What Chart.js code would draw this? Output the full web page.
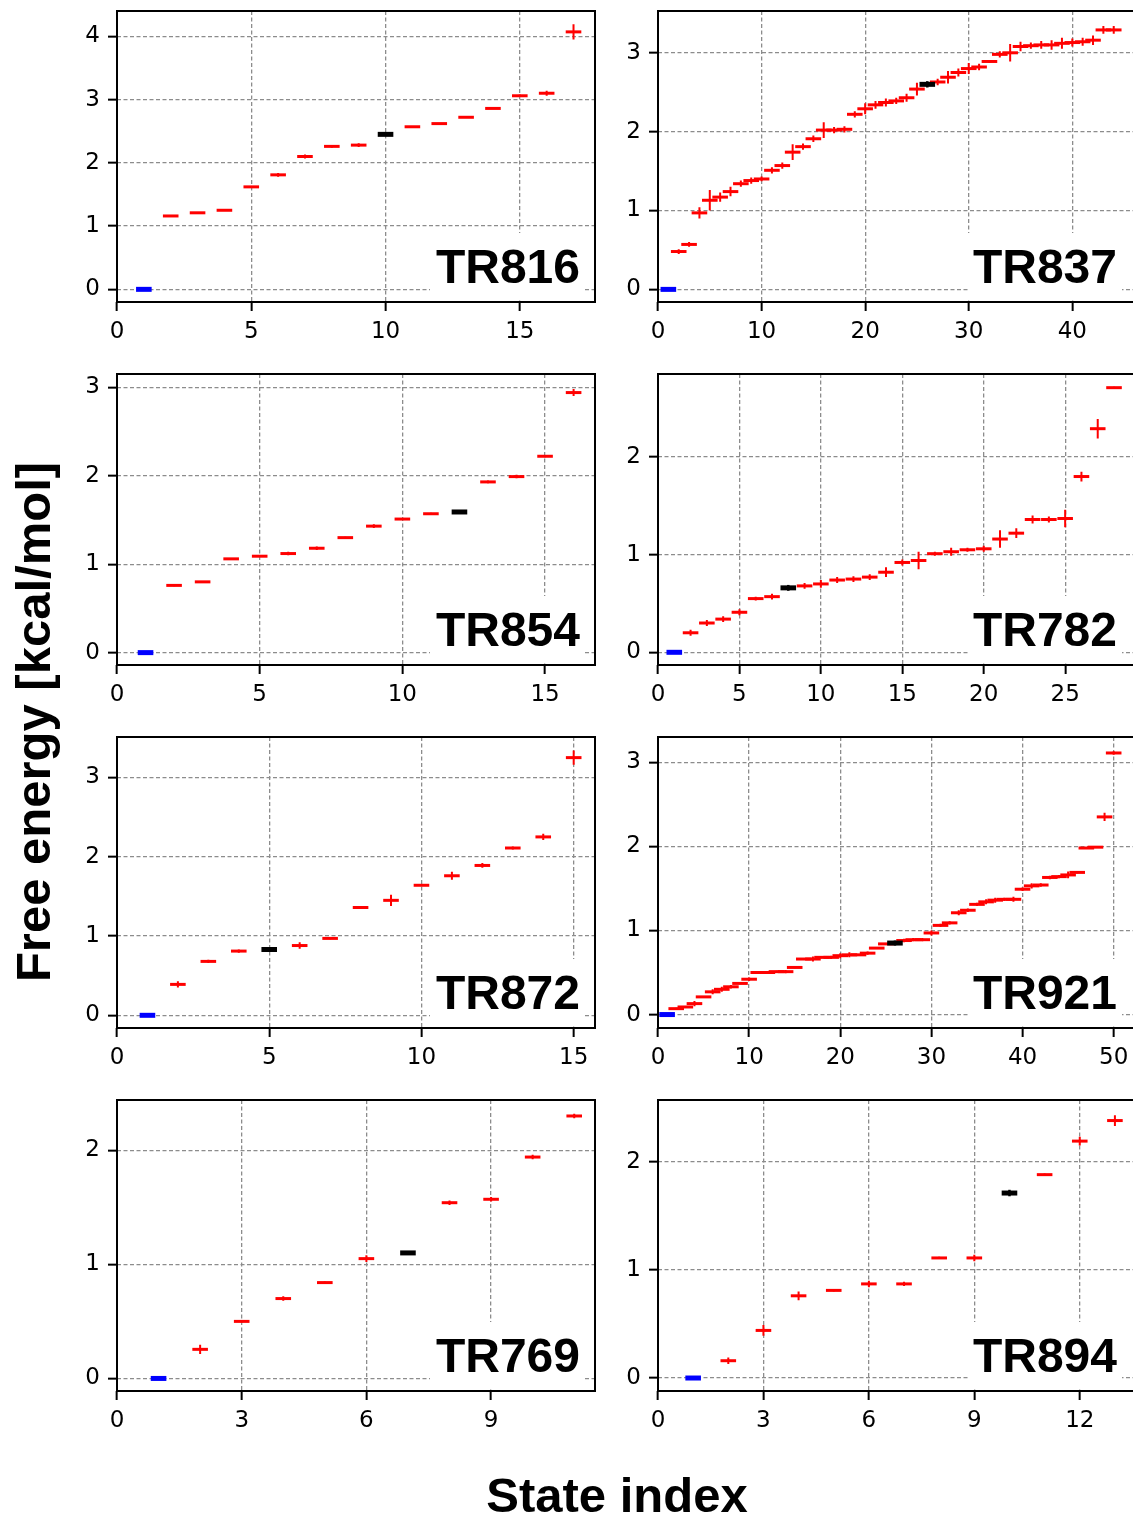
<!DOCTYPE html>
<html>
<head>
<meta charset="utf-8">
<script src="https://cdn.jsdelivr.net/npm/chart.js@4.4.0/dist/chart.umd.min.js"></script>
<style>
  html, body { margin: 0; padding: 0; background: #fff; }
  body { position: relative; width: 1133px; height: 1517px; overflow: hidden; }
  canvas { position: absolute; }
  .title { position: absolute; font: bold 49px "Liberation Sans", Arial, sans-serif; line-height: 49px; white-space: nowrap; color: #000; }
  #ytitle { left: 33px; top: 722px; transform: translate(-50%, -50%) rotate(-90deg); }
  #xtitle { left: 617px; top: 1471px; transform: translateX(-50%); }
</style>
</head>
<body>
<div class="title" id="ytitle">Free energy [kcal/mol]</div>
<div class="title" id="xtitle">State index</div>
<script>
// one entry per panel (state 1 = reference, blue)
const panelNames = ['TR816', 'TR837', 'TR854', 'TR782', 'TR872', 'TR921', 'TR769', 'TR894'];

const tr816Energy = [0, 1.16, 1.21, 1.25, 1.62, 1.81, 2.10, 2.26, 2.28, 2.45, 2.57, 2.62, 2.72, 2.86, 3.06, 3.10, 4.07];
const tr816Error  = [0, 0.01, 0.01, 0.01, 0.01, 0.03, 0.03, 0.02, 0.03, 0, 0.01, 0.01, 0.01, 0.01, 0.02, 0.04, 0.12];

const tr837Energy = [0, 0.48, 0.57, 0.97, 1.13, 1.17, 1.24, 1.34, 1.38, 1.40, 1.51, 1.57, 1.74, 1.81, 1.91, 2.02, 2.02, 2.03, 2.22, 2.29,
                     2.34, 2.37, 2.39, 2.43, 2.54, 2.60, 2.63, 2.69, 2.75, 2.80, 2.82, 2.89, 2.98, 3.00, 3.08, 3.09, 3.10, 3.10, 3.12, 3.13,
                     3.14, 3.16, 3.29, 3.29];
const tr837Error  = [0, 0.03, 0.03, 0.07, 0.13, 0.06, 0.06, 0.04, 0.04, 0.03, 0.04, 0.04, 0.10, 0.04, 0.04, 0.10, 0.04, 0.04, 0.04, 0.07,
                     0.05, 0.05, 0.04, 0.05, 0.08, 0.04, 0.04, 0.08, 0.05, 0.07, 0.04, 0.02, 0.04, 0.11, 0.06, 0.04, 0.05, 0.06, 0.07, 0.05,
                     0.05, 0.06, 0.05, 0.05];

const tr854Energy = [0, 0.76, 0.80, 1.06, 1.09, 1.12, 1.18, 1.30, 1.43, 1.51, 1.57, 1.59, 1.93, 1.99, 2.22, 2.94];
const tr854Error  = [0, 0.01, 0.01, 0.01, 0.01, 0.02, 0.02, 0.01, 0.02, 0.01, 0.01, 0, 0.015, 0.02, 0.01, 0.04];

const tr782Energy = [0, 0.20, 0.30, 0.34, 0.41, 0.55, 0.57, 0.66, 0.68, 0.70, 0.74, 0.75, 0.77, 0.82, 0.92, 0.94, 1.01, 1.03, 1.05, 1.06,
                     1.16, 1.22, 1.36, 1.36, 1.37, 1.80, 2.29, 2.71];
const tr782Error  = [0, 0.03, 0.03, 0.03, 0.03, 0.02, 0.03, 0.03, 0.03, 0.04, 0.03, 0.03, 0.03, 0.05, 0.03, 0.09, 0.02, 0.04, 0.02, 0.03,
                     0.09, 0.05, 0.04, 0.03, 0.09, 0.05, 0.10, 0.01];

const tr872Energy = [0, 0.39, 0.68, 0.81, 0.83, 0.88, 0.97, 1.36, 1.45, 1.64, 1.76, 1.89, 2.11, 2.25, 3.25];
const tr872Error  = [0, 0.04, 0.02, 0.02, 0, 0.04, 0.01, 0.02, 0.07, 0.01, 0.05, 0.03, 0.02, 0.04, 0.09];

const tr921Energy = [0, 0.07, 0.09, 0.13, 0.21, 0.27, 0.30, 0.33, 0.37, 0.42, 0.50, 0.50, 0.51, 0.51, 0.56, 0.66, 0.66, 0.68, 0.68, 0.70,
                     0.71, 0.71, 0.73, 0.79, 0.84, 0.85, 0.88, 0.89, 0.89, 0.97, 1.06, 1.09, 1.21, 1.24, 1.31, 1.34, 1.36, 1.37, 1.37, 1.49,
                     1.53, 1.54, 1.63, 1.64, 1.66, 1.69, 1.98, 1.99, 2.35, 3.11];
const tr921Error  = [0, 0.01, 0.01, 0.03, 0.01, 0.03, 0.03, 0.02, 0.01, 0.02, 0.01, 0.01, 0.01, 0.02, 0.01, 0.01, 0.03, 0.01, 0.02, 0.03,
                     0.03, 0.01, 0.02, 0.01, 0.01, 0.03, 0.02, 0.02, 0.02, 0.03, 0.02, 0.02, 0.03, 0.02, 0.02, 0.03, 0.03, 0.02, 0.03, 0.02,
                     0.03, 0.02, 0.02, 0.02, 0.04, 0.01, 0.01, 0.01, 0.05, 0.02];

const tr769Energy = [0, 0.255, 0.50, 0.70, 0.84, 1.05, 1.10, 1.54, 1.57, 1.94, 2.30];
const tr769Error  = [0, 0.04, 0.01, 0.02, 0.01, 0.03, 0, 0.02, 0.02, 0.02, 0.02];

const tr894Energy = [0, 0.16, 0.44, 0.76, 0.81, 0.87, 0.87, 1.11, 1.11, 1.71, 1.88, 2.19, 2.38];
const tr894Error  = [0, 0.03, 0.05, 0.04, 0.01, 0.03, 0.02, 0.01, 0.03, 0.03, 0.01, 0.04, 0.05];

const energies = [tr816Energy, tr837Energy, tr854Energy, tr782Energy, tr872Energy, tr921Energy, tr769Energy, tr894Energy];
const errors   = [tr816Error, tr837Error, tr854Error, tr782Error, tr872Error, tr921Error, tr769Error, tr894Error];

// state drawn in black in each panel
const blackState = [10, 26, 12, 8, 5, 26, 7, 10];

const xTicks = [[0, 5, 10, 15], [0, 10, 20, 30, 40], [0, 5, 10, 15], [0, 5, 10, 15, 20, 25],
                [0, 5, 10, 15], [0, 10, 20, 30, 40, 50], [0, 3, 6, 9], [0, 3, 6, 9, 12]];
const yTicks = [[0, 1, 2, 3, 4], [0, 1, 2, 3], [0, 1, 2, 3], [0, 1, 2],
                [0, 1, 2, 3], [0, 1, 2, 3], [0, 1, 2], [0, 1, 2]];
const yRange = [[-0.2, 4.4], [-0.16, 3.53], [-0.14, 3.15], [-0.13, 2.85],
                [-0.16, 3.51], [-0.16, 3.30], [-0.11, 2.44], [-0.12, 2.57]];

// layout (page pixels)
const COLS = [117, 658];
const ROWS = [11, 374, 737, 1100];
const PLOT_W = 478, PLOT_H = 291;
const YW = 60, XH = 50, PAD_T = 30, PAD_R = 30;
const BOX_LEFT = [313, 310], BOX_RIGHT = [467, 464], TEXT_RIGHT = [463, 459];

const panelPlugin = {
  id: 'panel',
  beforeDatasetsDraw(chart, args, opts) {
    const { ctx, chartArea: a } = chart;
    ctx.save();
    ctx.fillStyle = '#fff';
    ctx.fillRect(a.left + opts.boxLeft, a.top + 222, opts.boxRight - opts.boxLeft, a.bottom - 1.5 - (a.top + 222));
    ctx.fillStyle = '#000';
    ctx.font = 'bold 48px "Liberation Sans", Arial, sans-serif';
    ctx.textAlign = 'right';
    ctx.textBaseline = 'alphabetic';
    ctx.fillText(opts.name, a.left + opts.textRight, a.top + 271.5);
    ctx.restore();
  },
  afterDatasetsDraw(chart) {
    const { ctx, chartArea: a } = chart;
    ctx.save();
    ctx.lineWidth = 2;
    ctx.strokeStyle = '#000';
    ctx.strokeRect(a.left, a.top, a.right - a.left, a.bottom - a.top);
    ctx.restore();
  }
};

function markers(energy, pick) {
  const pts = [];
  energy.forEach((v, i) => { if (pick(i + 1)) pts.push({ x: i + 1, y: v }); });
  return pts;
}

function errorSegments(energy, error, pick) {
  const pts = [];
  energy.forEach((v, i) => {
    if (!pick(i + 1) || !error[i]) return;
    pts.push({ x: i + 1, y: v - error[i] }, { x: i + 1, y: v + error[i] }, { x: i + 1, y: null });
  });
  return pts;
}

panelNames.forEach((name, k) => {
  const col = k % 2, row = Math.floor(k / 2);
  const energy = energies[k], error = errors[k];
  const n = energy.length;
  const isRed = s => s !== 1 && s !== blackState[k];
  const isBlack = s => s === blackState[k];
  const isBlue = s => s === 1;

  const cv = document.createElement('canvas');
  cv.width = YW + PLOT_W + PAD_R;
  cv.height = PAD_T + PLOT_H + XH;
  cv.style.left = (COLS[col] - YW) + 'px';
  cv.style.top = (ROWS[row] - PAD_T) + 'px';
  document.body.appendChild(cv);

  const tickFont = { family: '"DejaVu Sans", sans-serif', size: 23 };
  const gridOpts = {
    color: '#8c8c8c', lineWidth: 1.3, drawTicks: true, tickLength: 9,
    tickColor: '#000', tickWidth: 2, tickBorderDash: []
  };
  const borderOpts = { display: false, dash: [4, 2.5] };

  new Chart(cv, {
    type: 'scatter',
    data: {
      datasets: [
        { data: markers(energy, isBlue), pointStyle: 'line', pointRadius: 7.8, borderWidth: 5, borderColor: '#0000ff', showLine: false },
        { data: markers(energy, isBlack), pointStyle: 'line', pointRadius: 7.8, borderWidth: 5, borderColor: '#000', showLine: false },
        { data: markers(energy, isRed), pointStyle: 'line', pointRadius: 7.8, borderWidth: 3, borderColor: '#ff0000', showLine: false },
        { data: errorSegments(energy, error, isBlack), showLine: true, spanGaps: false, pointRadius: 0, borderWidth: 2.5, borderColor: '#000' },
        { data: errorSegments(energy, error, isRed), showLine: true, spanGaps: false, pointRadius: 0, borderWidth: 2, borderColor: '#ff0000' }
      ]
    },
    options: {
      responsive: false,
      animation: false,
      events: [],
      layout: { padding: { top: PAD_T, right: PAD_R, left: 0, bottom: 0 } },
      plugins: {
        legend: { display: false },
        tooltip: { enabled: false },
        panel: { name, boxLeft: BOX_LEFT[col], boxRight: BOX_RIGHT[col], textRight: TEXT_RIGHT[col] }
      },
      scales: {
        x: {
          type: 'linear', min: 0, max: n + 0.05 * (n - 1),
          afterFit: s => { s.height = XH; },
          afterBuildTicks: s => { s.ticks = xTicks[k].map(v => ({ value: v })); },
          ticks: { font: tickFont, color: '#000', padding: 7, autoSkip: false, maxRotation: 0 },
          grid: gridOpts, border: borderOpts
        },
        y: {
          type: 'linear', min: yRange[k][0], max: yRange[k][1],
          afterFit: s => { s.width = YW; },
          afterBuildTicks: s => { s.ticks = yTicks[k].map(v => ({ value: v })); },
          ticks: { font: tickFont, color: '#000', padding: 8 },
          grid: gridOpts, border: borderOpts
        }
      }
    },
    plugins: [panelPlugin]
  });
});
</script>
</body>
</html>
